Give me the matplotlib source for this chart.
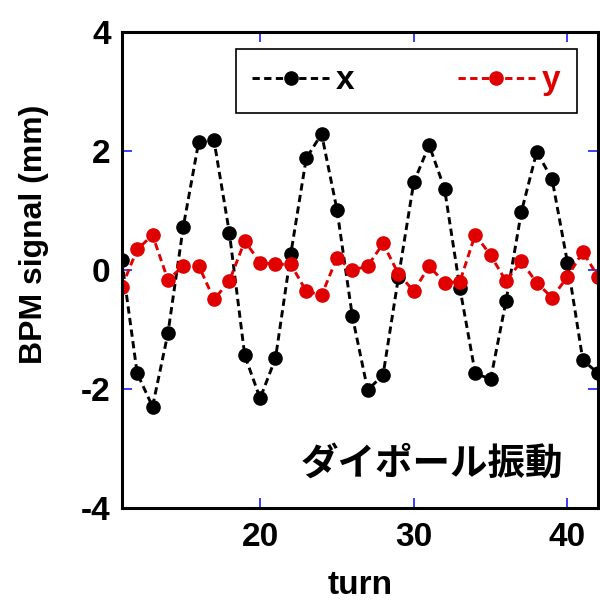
import matplotlib
matplotlib.use('Agg')
import matplotlib.pyplot as plt

# データ (turn ごとの BPM 信号, mm)
turns = list(range(11, 43))
x_signal = [0.17, -1.73, -2.29, -1.06, 0.73, 2.15, 2.18, 0.63, -1.43, -2.15,
            -1.48, 0.28, 1.88, 2.29, 1.02, -0.77, -2.01, -1.76, -0.12, 1.48,
            2.10, 1.37, -0.30, -1.73, -1.83, -0.52, 0.98, 1.99, 1.53, 0.13,
            -1.51, -1.73]
y_signal = [-0.28, 0.35, 0.59, -0.16, 0.07, 0.08, -0.49, -0.18, 0.49, 0.13,
            0.10, 0.10, -0.35, -0.42, 0.21, 0.0, 0.07, 0.45, -0.06, -0.35,
            0.07, -0.21, -0.19, 0.60, 0.25, -0.18, 0.15, -0.21, -0.46, -0.11,
            0.31, -0.11]
xticks = [20, 30, 40]
yticks = [-4, -2, 0, 2, 4]

plt.rcParams['font.family'] = ['Liberation Sans', 'DejaVu Sans']
plt.rcParams['font.weight'] = 'bold'
plt.rcParams['axes.unicode_minus'] = False

fig = plt.figure(figsize=(6, 6.06), dpi=100)
ax = fig.add_axes([0.203, 0.161, 0.794, 0.786])

ax.plot(turns, x_signal, color='black', lw=2.1, dashes=(2.5, 1.5),
        marker='o', ms=9.5, label='x')
ax.plot(turns, y_signal, color='#e00000', lw=2.1, dashes=(2.5, 1.5),
        marker='o', ms=9.5, label='y')

ax.set_xlim(11, 42)
ax.set_ylim(-4, 4)
ax.set_xticks(xticks)
ax.set_yticks(yticks)

for s in ax.spines.values():
    s.set_linewidth(2.2)
ax.tick_params(direction='in', color='#1a1aff', length=7, width=1.2,
               top=True, right=True, labelsize=24)
ax.tick_params(axis='y', pad=8)
ax.tick_params(axis='x', pad=10)
for lab in ax.get_xticklabels() + ax.get_yticklabels():
    lab.set_fontweight('bold')

ax.set_xlabel('turn', fontsize=24, fontweight='bold', labelpad=12)
ax.set_ylabel('BPM signal (mm)', fontsize=23, fontweight='bold')
ax.yaxis.set_label_coords(-0.152, 0.576)

leg = ax.legend(loc='lower left', bbox_to_anchor=(0.239, 0.830, 0.716, 0.136),
                mode='expand', ncol=2, numpoints=1, handlelength=2.3,
                handletextpad=0.2, borderpad=0.5,
                prop={'size': 24, 'weight': 'bold'}, fancybox=False,
                framealpha=1, edgecolor='black', borderaxespad=0)
leg.get_frame().set_linewidth(1.2)
for t, c in zip(leg.get_texts(), ['black', '#e00000']):
    t.set_color(c)

ax.text(0.927, 0.095, 'ダイポール振動', transform=ax.transAxes,
        ha='right', va='center', fontsize=27, fontweight='bold',
        family=['Noto Sans CJK JP', 'DejaVu Sans'])

fig.savefig('out.png', dpi=100)
